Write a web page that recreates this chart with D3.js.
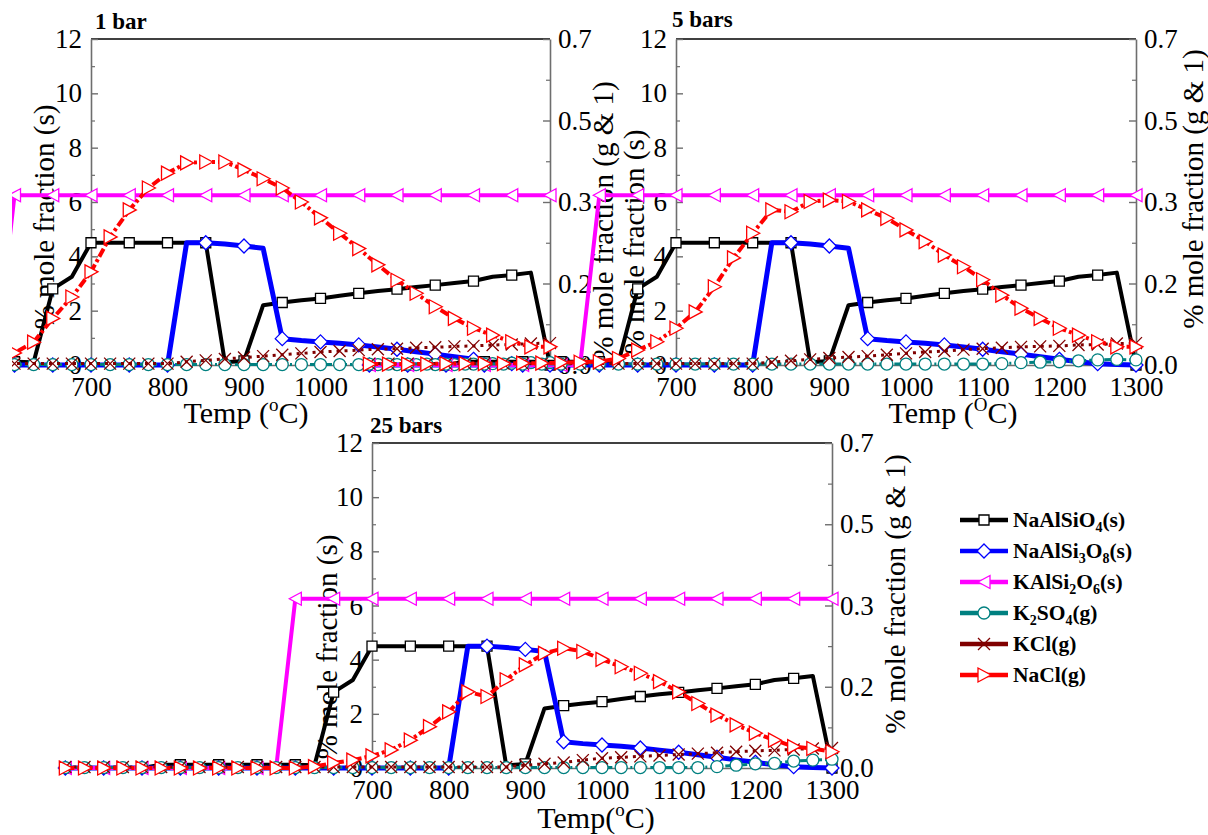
<!DOCTYPE html>
<html><head><meta charset="utf-8">
<script src="https://cdn.jsdelivr.net/npm/d3@7"></script>
<style>
body{margin:0;background:#fff}
svg{display:block}
text{font-family:"Liberation Serif","Times New Roman",serif;fill:#000}
</style>
</head><body>
<svg id="chart" width="1208" height="835"></svg>
<script>
// ---------- DATA ----------
const temps = [300,325,350,375,400,425,450,475,500,525,550,575,600,625,650,675,700,725,750,775,800,825,850,875,900,925,950,975,1000,1025,1050,1075,1100,1125,1150,1175,1200,1225,1250,1275,1300];
const xTicks = [700,800,900,1000,1100,1200,1300];
const xMinorTicks = [750,850,950,1050,1150,1250];
const yLeftTicks = [0,2,4,6,8,10,12];
const yLeftMinor = [1,3,5,7,9,11];
const yRightTicks = [0,0.175,0.35,0.525,0.7];
const yRightLabels = ["0.0","0.2","0.3","0.5","0.7"];
const yRightMinor = [0.0875,0.2625,0.4375,0.6125];

// solids (same in the three panels)
const naAlSiO4 = [0,0,0,0,0,0.12,0.12,0.12,0.12,0.12,0.12,0.12,0.12,0.1,2.8,3.25,4.5,4.5,4.5,4.5,4.5,4.5,4.5,0.1,0.15,2.2,2.3,2.38,2.45,2.55,2.64,2.72,2.79,2.87,2.94,3.02,3.09,3.25,3.31,3.4,0];
const naAlSi3O8 = [0,0,0,0,0,0,0,0,0,0,0,0,0,0,0,0,0,0,0,0,0,4.5,4.5,4.45,4.38,4.3,0.97,0.9,0.85,0.8,0.74,0.66,0.58,0.49,0.4,0.3,0.21,0.12,0.05,0.02,0];
const kAlSi2O6 = [0,0,0,0,0,0,0,0,0,0,0,0,6.25,6.25,6.25,6.25,6.25,6.25,6.25,6.25,6.25,6.25,6.25,6.25,6.25,6.25,6.25,6.25,6.25,6.25,6.25,6.25,6.25,6.25,6.25,6.25,6.25,6.25,6.25,6.25,6.25];

// gases, 1 bar
const k2so4_1 = [0.001,0.001,0.001,0.001,0.001,0.001,0.001,0.001,0.001,0.001,0.001,0.001,0.001,0.001,0.001,0.001,0.001,0.001,0.001,0.001,0.001,0.001,0.001,0.001,0.001,0.001,0.001,0.001,0.001,0.001,0.001,0.001,0.001,0.001,0.001,0.001,0.002,0.003,0.004,0.005,0.005];
const kcl_1 = [0.003,0.003,0.003,0.003,0.003,0.003,0.003,0.003,0.003,0.003,0.003,0.003,0.003,0.003,0.003,0.003,0.003,0.003,0.003,0.003,0.003,0.007,0.01,0.013,0.016,0.019,0.022,0.025,0.028,0.03,0.032,0.034,0.035,0.037,0.038,0.04,0.041,0.043,0.044,0.046,0.047];
const nacl_1 = [0.002,0.002,0.003,0.003,0.004,0.005,0.006,0.008,0.010,0.013,0.016,0.020,0.026,0.049,0.10,0.146,0.20,0.275,0.333,0.38,0.412,0.434,0.436,0.436,0.419,0.40,0.38,0.35,0.316,0.283,0.25,0.215,0.182,0.154,0.125,0.10,0.079,0.064,0.05,0.039,0.039];

// gases, 5 bars
const k2so4_5 = [0.002,0.002,0.002,0.002,0.002,0.002,0.002,0.002,0.002,0.002,0.002,0.002,0.002,0.002,0.002,0.002,0.002,0.002,0.002,0.002,0.002,0.002,0.002,0.002,0.002,0.002,0.002,0.002,0.002,0.002,0.002,0.002,0.002,0.003,0.005,0.006,0.007,0.009,0.011,0.012,0.011];
const kcl_5 = [0.003,0.003,0.003,0.003,0.003,0.003,0.003,0.003,0.003,0.003,0.003,0.003,0.003,0.003,0.003,0.003,0.003,0.003,0.003,0.003,0.003,0.006,0.009,0.012,0.015,0.017,0.019,0.022,0.025,0.028,0.03,0.033,0.035,0.037,0.039,0.04,0.041,0.043,0.044,0.046,0.047];
const nacl_5 = [0.002,0.002,0.002,0.002,0.003,0.003,0.003,0.003,0.004,0.004,0.005,0.006,0.007,0.014,0.032,0.05,0.079,0.114,0.168,0.23,0.283,0.333,0.329,0.351,0.354,0.351,0.333,0.315,0.29,0.265,0.236,0.211,0.183,0.15,0.122,0.1,0.079,0.064,0.05,0.039,0.039];

// gases, 25 bars
const k2so4_25 = [0.001,0.001,0.001,0.001,0.001,0.001,0.001,0.001,0.001,0.001,0.001,0.001,0.001,0.001,0.001,0.001,0.001,0.001,0.001,0.001,0.001,0.001,0.001,0.001,0.001,0.001,0.001,0.001,0.001,0.001,0.001,0.001,0.001,0.001,0.003,0.006,0.009,0.01,0.015,0.017,0.019];
const kcl_25 = [0.002,0.002,0.002,0.002,0.002,0.002,0.002,0.002,0.002,0.002,0.002,0.002,0.002,0.002,0.002,0.002,0.002,0.002,0.002,0.002,0.002,0.002,0.002,0.002,0.006,0.009,0.012,0.017,0.021,0.023,0.025,0.027,0.029,0.031,0.033,0.035,0.037,0.038,0.04,0.042,0.043];
const nacl_25 = [0,0,0,0,0,0,0,0,0,0,0,0,0,0.003,0.011,0.017,0.026,0.039,0.06,0.089,0.121,0.164,0.154,0.19,0.222,0.247,0.258,0.251,0.234,0.218,0.204,0.186,0.164,0.139,0.114,0.093,0.075,0.06,0.046,0.042,0.035];

const panelTitles = ["1 bar","5 bars","25 bars"];
const xTitleSups = ["o","O","o"];
const xTitleGaps = [" "," ",""];

// ---------- STYLES ----------
const styles = {
  naAlSiO4: {color:"#000000", width:4,   dash:null,      marker:"square",  axis:"L", every:2},
  naAlSi3O8:{color:"#0000ff", width:5,   dash:null,      marker:"diamond", axis:"L", every:2},
  kAlSi2O6: {color:"#ff00ff", width:4,   dash:null,      marker:"triL",    axis:"L", every:2},
  k2so4:    {color:"#008080", width:3,   dash:"7,3,2,3", marker:"circle",  axis:"R", every:1},
  kcl:      {color:"#800000", width:3,   dash:"3,5",     marker:"cross",   axis:"R", every:1},
  nacl:     {color:"#ff0000", width:4,   dash:"9,3,3,3", marker:"triR",    axis:"R", every:1}
};
const markerPath = {
  square: "M-5,-5h10v10h-10Z",
  diamond:"M0,-7L7,0L0,7L-7,0Z",
  triL:   "M6,-6.5L-6,0L6,6.5Z",
  triR:   "M-6,-7L7,0L-6,7Z",
  cross:  "M-6,-6L6,6M-6,6L6,-6",
  circle: "M6,0A6,6 0 1,1 -6,0A6,6 0 1,1 6,0Z"
};

const layout = [
  {l:91, r:550, t:39, b:365, titleX:95, titleY:29, xtX:246, xtY:423,
   ylX:54, ylY:217, yrX:613, yrY:221},
  {l:676, r:1136, t:39, b:365, titleX:672, titleY:27, xtX:953, xtY:423,
   ylX:644, ylY:242, yrX:1203, yrY:189},
  {l:372, r:832, t:443, b:768, titleX:370, titleY:433, xtX:596, xtY:828,
   ylX:337, ylY:647, yrX:905, yrY:594}
];
const panelSeries = [
  {naAlSiO4, naAlSi3O8, kAlSi2O6, k2so4:k2so4_1,  kcl:kcl_1,  nacl:nacl_1},
  {naAlSiO4, naAlSi3O8, kAlSi2O6, k2so4:k2so4_5,  kcl:kcl_5,  nacl:nacl_5},
  {naAlSiO4, naAlSi3O8, kAlSi2O6, k2so4:k2so4_25, kcl:kcl_25, nacl:nacl_25}
];
const order = ["naAlSiO4","naAlSi3O8","kAlSi2O6","k2so4","kcl","nacl"];

const svg = d3.select("#chart");
// the figure is cropped at its left edge
svg.append("defs").append("clipPath").attr("id","crop")
  .append("rect").attr("x",12).attr("y",0).attr("width",1196).attr("height",835);
const root = svg.append("g").attr("clip-path","url(#crop)");
const axisColor = "#6e6e6e";

layout.forEach((L, pi) => {
  const g = root.append("g");
  const x = d3.scaleLinear().domain([700,1300]).range([L.l, L.r]);
  const yL = d3.scaleLinear().domain([0,12]).range([L.b, L.t]);
  const yR = d3.scaleLinear().domain([0,0.7]).range([L.b, L.t]);

  g.append("line").attr("x1",L.l).attr("x2",L.r).attr("y1",L.t).attr("y2",L.t)
    .attr("stroke","#000").attr("stroke-width",1.3);

  const minorStyle = s=>{s.select(".domain").remove(); s.selectAll("line").attr("stroke",axisColor).attr("stroke-width",1.2);};
  g.append("g").attr("transform",`translate(${L.l},0)`)
    .call(d3.axisLeft(yL).tickValues(yLeftMinor).tickSize(-4).tickFormat("")).call(minorStyle);
  g.append("g").attr("transform",`translate(${L.r},0)`)
    .call(d3.axisRight(yR).tickValues(yRightMinor).tickSize(-4).tickFormat("")).call(minorStyle);
  g.append("g").attr("transform",`translate(0,${L.b})`)
    .call(d3.axisBottom(x).tickValues(xMinorTicks).tickSize(-4).tickFormat("")).call(minorStyle);

  const styleAxis = s => {
    s.select(".domain").attr("stroke",axisColor).attr("stroke-width",1.6);
    s.selectAll(".tick line").attr("stroke",axisColor).attr("stroke-width",1.4);
    s.selectAll("text").attr("font-size",27).attr("font-family",'"Liberation Serif",serif').attr("fill","#000");
  };
  g.append("g").attr("transform",`translate(${L.l},0)`)
    .call(d3.axisLeft(yL).tickValues(yLeftTicks).tickSizeInner(-7).tickSizeOuter(0).tickPadding(9))
    .call(styleAxis);
  g.append("g").attr("transform",`translate(${L.r},0)`)
    .call(d3.axisRight(yR).tickValues(yRightTicks).tickFormat((d,i)=>yRightLabels[i]).tickSizeInner(-7).tickSizeOuter(0).tickPadding(8))
    .call(styleAxis);
  g.append("g").attr("transform",`translate(0,${L.b})`)
    .call(d3.axisBottom(x).tickValues(xTicks).tickFormat(d3.format("d")).tickSizeInner(-7).tickSizeOuter(0).tickPadding(12))
    .call(styleAxis);

  g.append("text").attr("x",L.titleX).attr("y",L.titleY).attr("font-size",23)
    .attr("font-weight","bold").text(panelTitles[pi]);
  const xt = g.append("text").attr("x",L.xtX).attr("y",L.xtY).attr("font-size",30)
    .attr("text-anchor","middle");
  xt.append("tspan").text("Temp"+xTitleGaps[pi]+"(");
  xt.append("tspan").attr("font-size",19).attr("dy",-12).text(xTitleSups[pi]);
  xt.append("tspan").attr("dy",12).text("C)");
  g.append("text").attr("transform",`translate(${L.ylX},${L.ylY}) rotate(-90)`)
    .attr("text-anchor","middle").attr("font-size",29).text("% mole fraction (s)");
  g.append("text").attr("transform",`translate(${L.yrX},${L.yrY}) rotate(-90)`)
    .attr("text-anchor","middle").attr("font-size",29).text("% mole fraction (g & 1)");

  const data = panelSeries[pi];
  order.forEach(key => {
    const st = styles[key];
    const y = st.axis === "L" ? yL : yR;
    const vals = data[key];
    const pts = temps.map((t,i)=>({t, v: vals[i], i}));
    const line = d3.line().x(d=>x(d.t)).y(d=>y(d.v));
    g.append("path").attr("d",line(pts)).attr("fill","none")
      .attr("stroke",st.color).attr("stroke-width",st.width)
      .attr("stroke-dasharray",st.dash).attr("stroke-linejoin","round");
    g.selectAll(null).data(pts.filter(d=>d.i % st.every === 0)).enter()
      .append("path").attr("d",markerPath[st.marker])
      .attr("transform",d=>`translate(${x(d.t)},${y(d.v)})`)
      .attr("fill", st.marker==="cross" ? "none" : "#fff")
      .attr("stroke",st.color).attr("stroke-width",1.3);
  });
});

// ---------- LEGEND ----------
const legendRows = [
  {key:"naAlSiO4", parts:[["NaAlSiO",0],["4",1],["(s)",0]]},
  {key:"naAlSi3O8",parts:[["NaAlSi",0],["3",1],["O",0],["8",1],["(s)",0]]},
  {key:"kAlSi2O6", parts:[["KAlSi",0],["2",1],["O",0],["6",1],["(s)",0]]},
  {key:"k2so4",    parts:[["K",0],["2",1],["SO",0],["4",1],["(g)",0]]},
  {key:"kcl",      parts:[["KCl(g)",0]]},
  {key:"nacl",     parts:[["NaCl(g)",0]]}
];
const lg = svg.append("g");
const legY = d3.scalePoint().domain(legendRows.map(d=>d.key)).range([520,675]);
legendRows.forEach(row => {
  const st = styles[row.key];
  const yy = legY(row.key);
  lg.append("line").attr("x1",960).attr("x2",1008).attr("y1",yy).attr("y2",yy)
    .attr("stroke",st.color).attr("stroke-width",4.5);
  lg.append("path").attr("d",markerPath[st.marker]).attr("transform",`translate(984,${yy})`)
    .attr("fill", st.marker==="cross" ? "none" : "#fff").attr("stroke",st.color).attr("stroke-width",1.3);
  const tx = lg.append("text").attr("x",1013).attr("y",yy+7).attr("font-size",21.5).attr("font-weight","bold");
  let sub = false;
  row.parts.forEach(([s,isSub])=>{
    const ts = tx.append("tspan").text(s);
    if (isSub && !sub) { ts.attr("dy",5).attr("font-size",14); sub = true; }
    else if (isSub && sub) { ts.attr("font-size",14); }
    else if (!isSub && sub) { ts.attr("dy",-5); sub = false; }
  });
});
</script>
</body></html>
